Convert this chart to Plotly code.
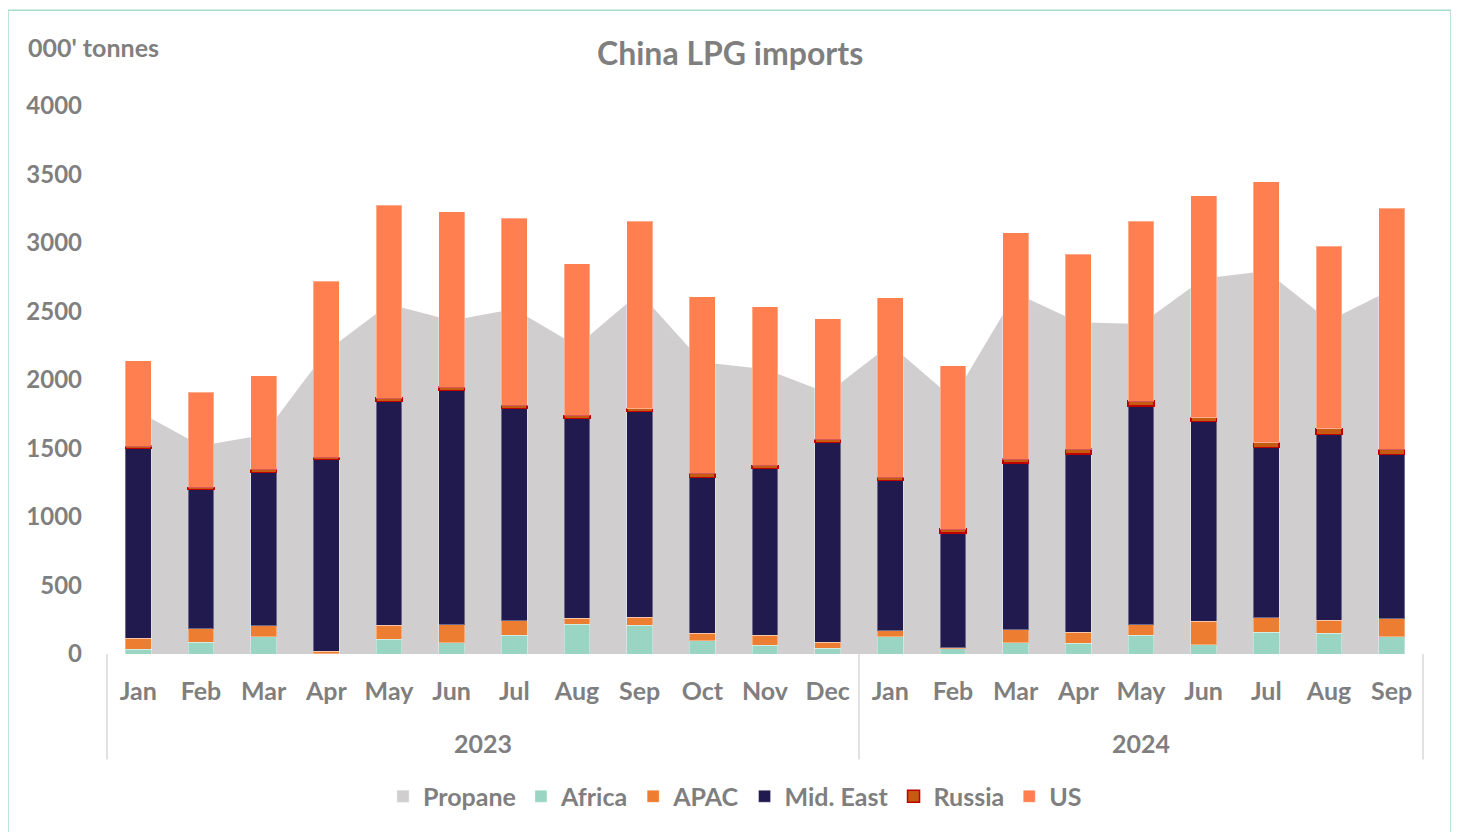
import plotly.graph_objects as go

years = ["2023"] * 12 + ["2024"] * 9
months = ["Jan", "Feb", "Mar", "Apr", "May", "Jun", "Jul", "Aug", "Sep", "Oct", "Nov", "Dec",
          "Jan", "Feb", "Mar", "Apr", "May", "Jun", "Jul", "Aug", "Sep"]
year_labels = ["2023", "2024"]

propane = [1770, 1520, 1600, 2210, 2553, 2434, 2519, 2249, 2637, 2129, 2080, 1905,
           2260, 1865, 2635, 2422, 2408, 2740, 2795, 2432, 2660]
africa = [36, 87, 126, 3, 107, 83, 138, 216, 211, 97, 63, 41,
          126, 39, 83, 78, 136, 68, 160, 151, 126]
apac = [78, 97, 80, 18, 102, 131, 105, 44, 59, 54, 73, 46,
        44, 7, 94, 82, 78, 172, 105, 94, 131]
mid_east = [1385, 1018, 1120, 1398, 1634, 1709, 1549, 1460, 1500, 1139, 1219, 1458,
            1098, 836, 1217, 1300, 1595, 1458, 1241, 1358, 1200]
russia = [19, 15, 22, 16, 25, 25, 22, 21, 22, 29, 22, 21,
          22, 29, 29, 36, 37, 27, 37, 42, 37]
us = [622, 692, 682, 1287, 1408, 1280, 1365, 1108, 1368, 1287, 1156, 880,
      1311, 1192, 1652, 1421, 1313, 1621, 1903, 1332, 1758]

keys = [f"{m} {y}" for m, y in zip(months, years)]
FONT = "Lato"
GRAY = "#7F7F7F"
LINE = "#D9D9D9"

fig = go.Figure()
fig.add_trace(go.Scatter(x=keys, y=propane, name="Propane", mode="none", fill="tozeroy",
                         fillcolor="#D0CECE", zorder=-1, showlegend=False))
# legend entry for Propane as a square swatch
fig.add_trace(go.Bar(x=keys, y=[0] * len(keys), name="Propane", marker=dict(color="#D0CECE")))
edge = dict(color="rgba(255,255,255,0.35)", width=1)
fig.add_trace(go.Bar(x=keys, y=africa, name="Africa", marker=dict(color="#99D5C2", line=edge)))
fig.add_trace(go.Bar(x=keys, y=apac, name="APAC", marker=dict(color="#ED7D31", line=edge)))
fig.add_trace(go.Bar(x=keys, y=mid_east, name="Mid. East", marker=dict(color="#201A4E", line=edge)))
fig.add_trace(go.Bar(x=keys, y=russia, name="Russia",
                     marker=dict(color="#C55A11", line=dict(color="#C00000", width=1.5))))
fig.add_trace(go.Bar(x=keys, y=us, name="US", marker=dict(color="#FF7F50", line=edge)))

OFF = 8  # page offset of the figure in the screenshot
W, H = 1459 - OFF, 832 - OFF
L, T = 107 - OFF, 106 - OFF
R = W - (1423 - OFF)
B = H - (656 - OFF)
pw, ph = W - L - R, H - T - B

def px(v):
    return (v - OFF - L) / pw

def py(v):
    return (H - B - (v - OFF)) / ph

n = len(keys)
n23 = years.count("2023")
annotations = [
    dict(text="China LPG imports", x=px(730), y=py(52), xref="paper", yref="paper",
         showarrow=False, font=dict(size=32, family=FONT, color=GRAY, weight=700),
         xanchor="center", yanchor="middle"),
    dict(text="000' tonnes", x=px(26), y=py(47), xref="paper", yref="paper",
         showarrow=False, font=dict(size=25, family=FONT, color=GRAY, weight=700),
         xanchor="left", yanchor="middle"),
]
groups = [(0, n23), (n23, n)]
for lab, (a, b) in zip(year_labels, groups):
    annotations.append(dict(text=lab, x=(a + b) / 2 / n, y=py(745), xref="paper", yref="paper",
                            showarrow=False, font=dict(size=25, family=FONT, color=GRAY, weight=700),
                            xanchor="center", yanchor="middle"))

shapes = [
    dict(type="rect", xref="paper", yref="paper", x0=px(8), x1=px(1451), y0=py(845), y1=py(10),
         line=dict(color="#A6DCCB", width=1.5), fillcolor="rgba(0,0,0,0)", layer="below"),
]
for xv in [0, n23 / n, 1]:
    shapes.append(dict(type="line", xref="paper", yref="paper", x0=xv, x1=xv, y0=0, y1=py(762),
                       line=dict(color=LINE, width=1.5)))

fig.update_layout(
    width=W, height=H,
    margin=dict(l=L, r=R, t=T, b=B),
    paper_bgcolor="white", plot_bgcolor="white",
    barmode="stack", bargap=0.59,
    font=dict(family=FONT, color=GRAY, size=24, weight=700),
    showlegend=True,
    legend=dict(orientation="h", x=px(735), xanchor="center", y=py(799), yanchor="middle",
                traceorder="normal", font=dict(size=25, family=FONT, color=GRAY, weight=700),
                itemclick=False),
    xaxis=dict(type="category", showline=True, linecolor=LINE, linewidth=1.5,
               tickvals=keys, ticktext=months,
               tickfont=dict(size=25, family=FONT, color=GRAY, weight=700),
               showgrid=False, ticks="", ticklabelstandoff=14),
    yaxis=dict(range=[0, 4000], dtick=500, showgrid=False, zeroline=False, showline=False,
               tickfont=dict(size=24, family=FONT, color=GRAY, weight=700),
               ticklabelstandoff=24),
    annotations=annotations,
    shapes=shapes,
)

fig.write_html("out.html")
